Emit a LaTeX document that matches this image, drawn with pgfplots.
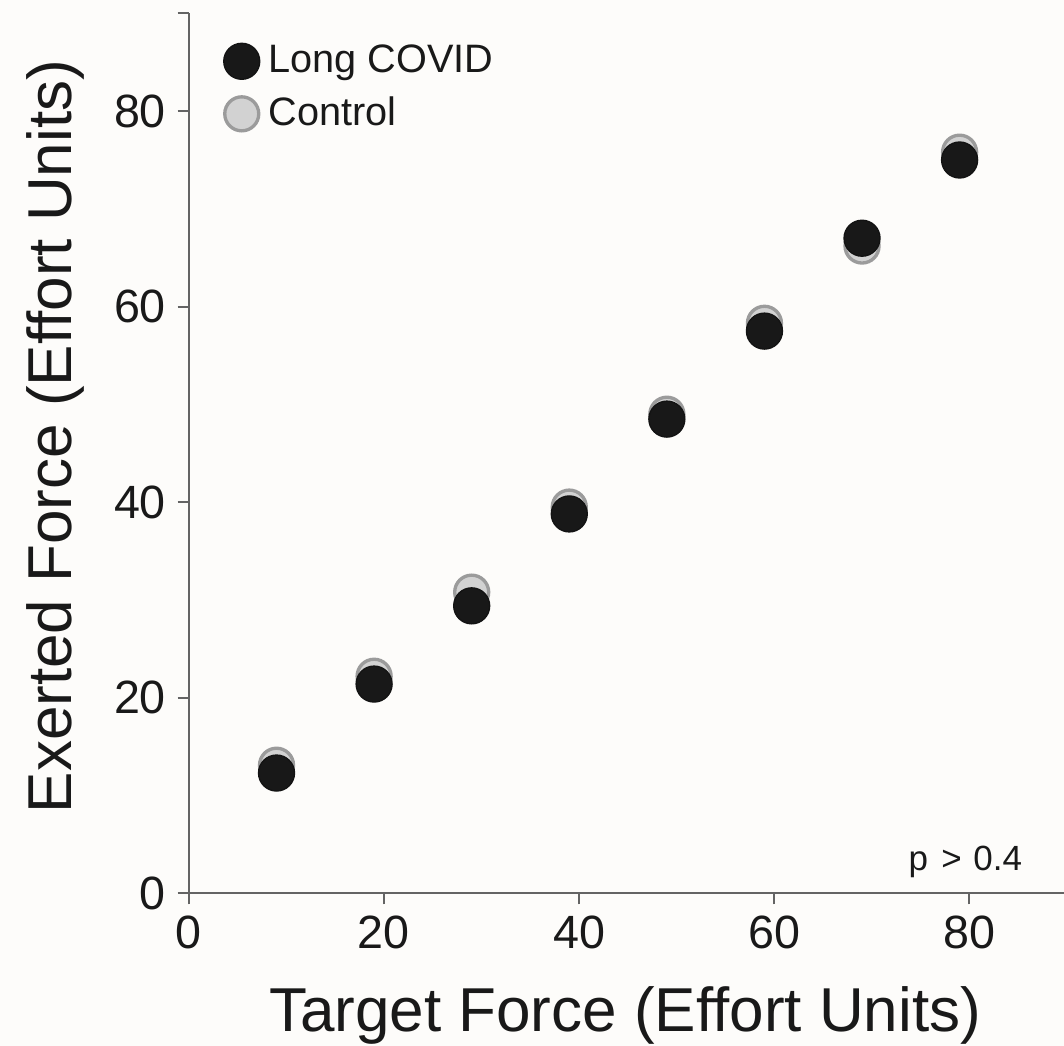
\documentclass[border=0pt]{standalone}
\usepackage{fontspec}
\setmainfont{Liberation Sans}
\usepackage{pgfplots}
\pgfplotsset{compat=1.18}
\definecolor{bg}{RGB}{253,252,250}
\definecolor{axisgray}{RGB}{100,100,100}
\definecolor{lcfill}{RGB}{24,24,24}
\definecolor{ctfill}{RGB}{210,210,210}
\definecolor{ctedge}{RGB}{155,155,155}
\begin{document}
\begin{tikzpicture}
\fill[bg] (-56.61pt,-45.81pt) rectangle (262.59pt,267.99pt);
\begin{axis}[
  at={(0pt,0pt)}, anchor=south west,
  width=262.6pt, height=264pt, scale only axis,
  xmin=0, xmax=89.7, ymin=0, ymax=90,
  axis x line*=bottom, axis y line*=left,
  axis line style={draw=axisgray, line width=0.6pt},
  xtick={0,20,...,80}, ytick={0,20,...,80},
  extra y ticks={90}, extra y tick labels={},
  tick align=outside, major tick length=3.3pt,
  tick style={draw=axisgray, line width=0.6pt},
  ticklabel style={font=\fontsize{14}{16}\selectfont, text=black!90},
  /pgf/number format/assume math mode=true,
  xlabel={Target Force (Effort Units)},
  ylabel={Exerted Force (Effort Units)},
  label style={font=\fontsize{18.6}{22}\selectfont, text=black!90},
  xlabel style={at={(axis description cs:0.4985,-0.1572)}, anchor=base},
  ylabel style={at={(axis description cs:-0.1337,0.519)}, anchor=base},
  reverse legend,
  legend cell align=left,
  legend image code/.code={\draw[mark repeat=2,mark phase=2,#1] plot coordinates {(0pt,0pt) (5.6pt,0pt) (12.4pt,0pt)};},
  legend style={at={(axis cs:2.5,88.2)}, anchor=north west, draw=none, fill=none,
    font=\fontsize{11.9}{14}\selectfont, text=black!90, row sep=1.8pt},
  clip=false,
]
\addplot[only marks, mark=*, mark size=5.1pt,
  mark options={fill=ctfill, draw=ctedge, line width=1pt}]
  table {
x y
9 13.1
19 22.2
29 30.8
39 39.5
49 49.0
59 58.3
69 66.2
79 75.8
};
\addlegendentry{\hspace{0.7pt}Control}
\addplot[only marks, mark=*, mark size=5.4pt,
  mark options={fill=lcfill, draw=lcfill!80!black, line width=0.4pt}]
  table {
x y
9 12.3
19 21.4
29 29.4
39 38.8
49 48.5
59 57.5
69 67.0
79 75.0
};
\addlegendentry{\hspace{0.7pt}Long COVID}
\node[anchor=base west, inner sep=0, font=\fontsize{10.5}{12}\selectfont, text=black!90]
  at (axis cs:73.7,2.38) {p\hspace{0.38em}>\hspace{0.33em}0.4};
\end{axis}
\pgfresetboundingbox
\useasboundingbox (-56.61pt,-45.81pt) rectangle (262.59pt,267.99pt);
\end{tikzpicture}
\end{document}
